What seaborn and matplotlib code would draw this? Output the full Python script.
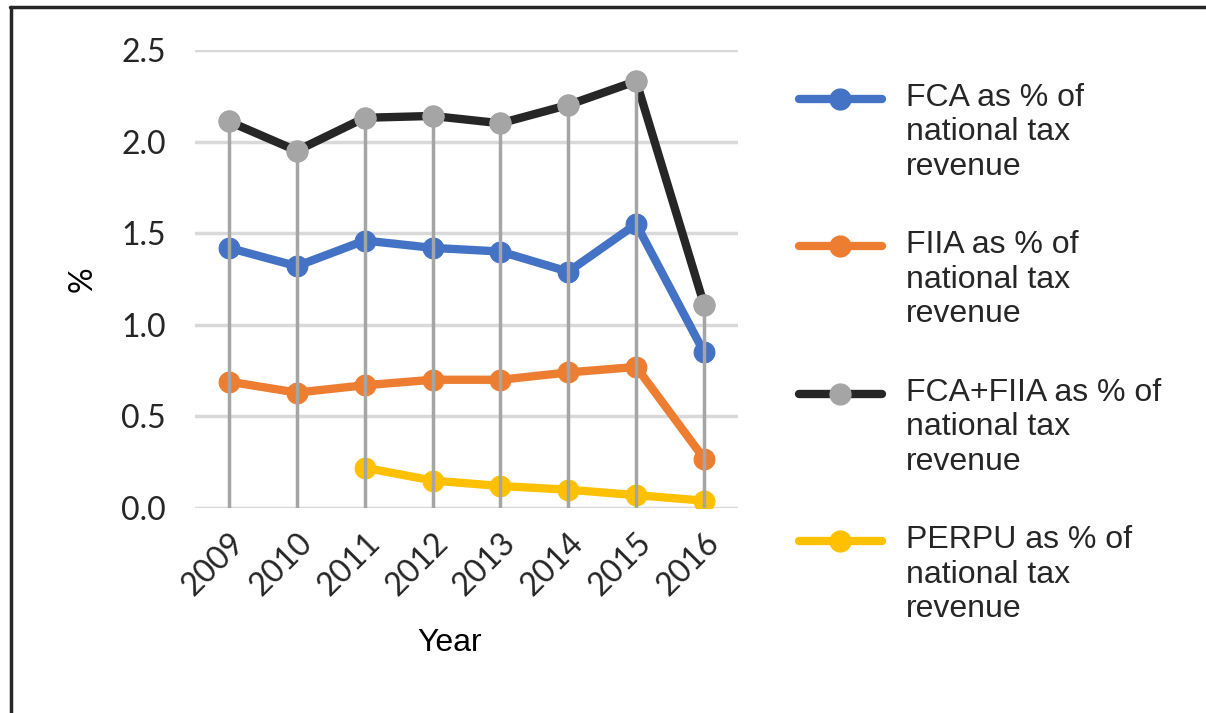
import matplotlib
matplotlib.use("Agg")
import matplotlib.pyplot as plt
import seaborn as sns
import pandas as pd
from matplotlib.lines import Line2D
from matplotlib.legend_handler import HandlerLine2D

years = ["2009", "2010", "2011", "2012", "2013", "2014", "2015", "2016"]
fca = [1.42, 1.32, 1.46, 1.42, 1.40, 1.29, 1.55, 0.85]
fiia = [0.69, 0.63, 0.67, 0.70, 0.70, 0.74, 0.77, 0.27]
total = [2.11, 1.95, 2.13, 2.14, 2.10, 2.20, 2.33, 1.11]
perpu = [None, None, 0.22, 0.15, 0.12, 0.10, 0.07, 0.04]
yticks = [0.0, 0.5, 1.0, 1.5, 2.0, 2.5]

labels = ["FCA as % of\nnational tax\nrevenue",
          "FIIA as % of\nnational tax\nrevenue",
          "FCA+FIIA as % of\nnational tax\nrevenue",
          "PERPU as % of\nnational tax\nrevenue"]


class TopHandler(HandlerLine2D):
    """Place the legend handle level with the first line of a multi-line label."""
    def create_artists(self, legend, orig_handle, xdescent, ydescent, width,
                       height, fontsize, trans):
        arts = super().create_artists(legend, orig_handle, xdescent, ydescent,
                                      width, height, fontsize, trans)
        for a in arts:
            a.set_ydata([y + 24.5 for y in a.get_ydata()])
        return arts


sns.set_theme(style="white")
plt.rcParams['font.family'] = ['Liberation Sans', 'DejaVu Sans']

fig = plt.figure(figsize=(12.06, 7.13), dpi=100)
ax = fig.add_axes([195/1206, 1-508/713, (738-195)/1206, (508-50)/713])

x = list(range(len(years)))
series = [
    (fca, "#4472C4", "#4472C4"),
    (fiia, "#ED7D31", "#ED7D31"),
    (total, "#262626", "#A5A5A5"),
    (perpu, "#FFC000", "#FFC000"),
]
handles = []
for (vals, lc, mc), lab in zip(series, labels):
    df = pd.DataFrame({"x": x, "y": [float('nan') if v is None else v for v in vals]}).dropna()
    sns.lineplot(data=df, x="x", y="y", ax=ax, color=lc, lw=6, marker="o",
                 markersize=15, markerfacecolor=mc, markeredgecolor=mc, zorder=3)
    handles.append(Line2D([0], [0], color=lc, lw=6, marker="o", markersize=15,
                          markerfacecolor=mc, markeredgecolor=mc))

# drop lines
ax.vlines(x, 0, total, color="#A5A5A5", lw=2.5, zorder=4)
ax.plot(x, total, "o", ms=15, color="#A5A5A5", zorder=5)

ax.set_xlim(-0.5, 7.5)
ax.set_ylim(0, 2.5)
ax.set_yticks(yticks)
ax.set_yticklabels([f"{v:.1f}" for v in yticks], fontsize=23, color="#262626",
                   family=['Lato', 'DejaVu Sans'])
ax.set_xticks(x)
ax.set_xticklabels(years, rotation=45, ha="right", rotation_mode="anchor",
                   fontsize=23, color="#262626", family=['Lato', 'DejaVu Sans'])
ax.tick_params(axis="y", length=0, pad=21)
ax.tick_params(axis="x", length=0, pad=14)
ax.grid(axis="y", color="#D9D9D9", lw=2.5)
ax.set_axisbelow(True)
for s in ax.spines.values():
    s.set_visible(False)
ax.set_xlabel("Year", fontsize=23, color="black")
ax.xaxis.set_label_coords((450-195)/543, (508-643)/458)
ax.xaxis.label.set_va("center")
ax.set_ylabel("%", fontsize=23, color="black", family=['Lato', 'DejaVu Sans'])
ax.yaxis.set_label_coords((83-195)/543, 0.5)
ax.yaxis.label.set_va("center")

leg = fig.legend(handles, labels, loc="upper left", bbox_to_anchor=(786/1206, 1-70/713),
                 frameon=False, fontsize=23, handlelength=2.6, handletextpad=0.75,
                 labelspacing=1.51, borderaxespad=0,
                 handler_map={Line2D: TopHandler()})

# figure border (top and left)
fig.add_artist(Line2D([10/1206, 1], [1-7/713, 1-7/713], color="#262626", lw=2.5,
                      transform=fig.transFigure))
fig.add_artist(Line2D([11/1206, 11/1206], [0, 1-7/713], color="#262626", lw=2.5,
                      transform=fig.transFigure))

fig.savefig("out.png", dpi=100, facecolor="white")
